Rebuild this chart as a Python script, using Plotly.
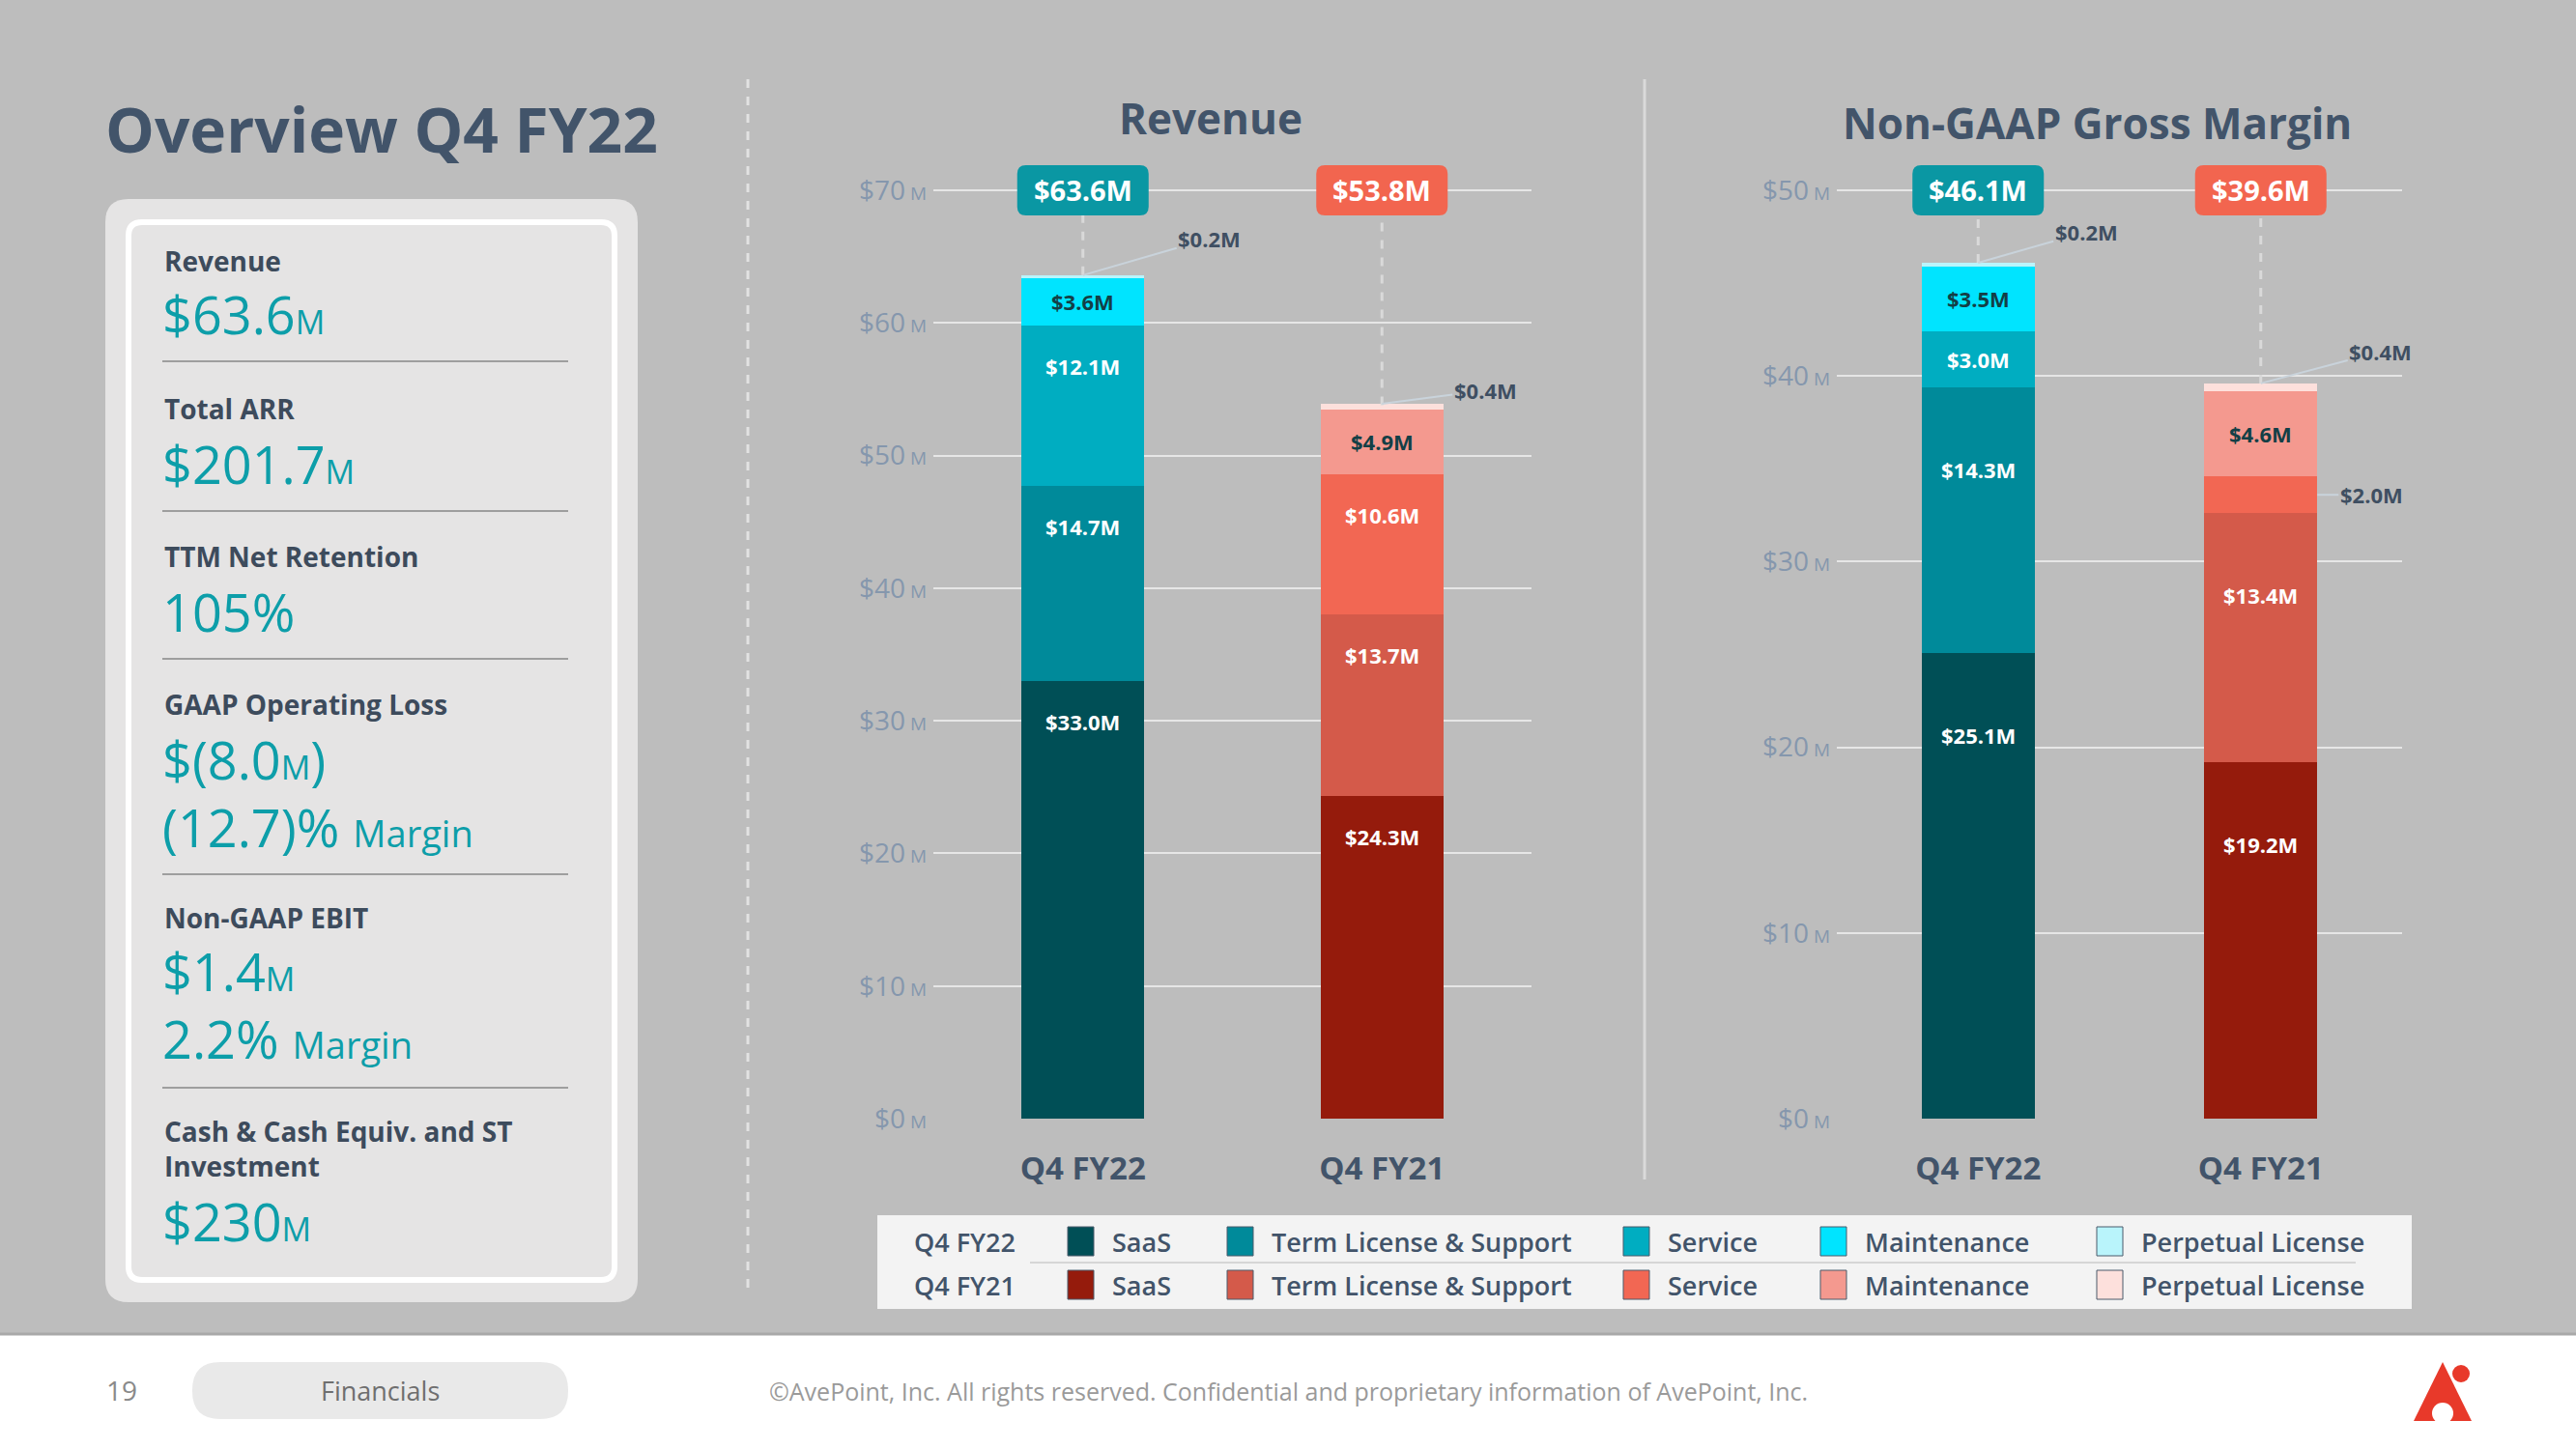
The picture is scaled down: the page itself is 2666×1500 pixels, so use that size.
import plotly.graph_objects as go

W, H = 2666, 1500

# ---------------- data ----------------
categories = ["Q4 FY22", "Q4 FY21"]
segment_names = ["SaaS", "Term License & Support", "Service", "Maintenance", "Perpetual License"]

rev_saas = [33.0, 24.3]
rev_term = [14.7, 13.7]
rev_service = [12.1, 10.6]
rev_maintenance = [3.6, 4.9]
rev_perpetual = [0.2, 0.4]
rev_totals = [63.6, 53.8]
rev_ticks = [0, 10, 20, 30, 40, 50, 60, 70]

gm_saas = [25.1, 19.2]
gm_term = [14.3, 13.4]
gm_service = [3.0, 2.0]
gm_maintenance = [3.5, 4.6]
gm_perpetual = [0.2, 0.4]
gm_totals = [46.1, 39.6]
gm_ticks = [0, 10, 20, 30, 40, 50]

kpi_labels = ["Revenue", "Total ARR", "TTM Net Retention", "GAAP Operating Loss",
              "Non-GAAP EBIT", "Cash & Cash Equiv. and ST<br>Investment"]
kpi_values = ["$63.6{M}", "$201.7{M}", "105%", "$(8.0{M})", "$1.4{M}", "$230{M}"]
kpi_margins = [None, None, None, "(12.7)%", "2.2%", None]

# ---------------- style ----------------
FONT = "Open Sans"
DARK = "#42546a"
TEAL_TXT = "#0d9ea9"
TICK = "#8597ad"
BG = "#bdbdbd"
fy22_colors = ["#004f56", "#008a9a", "#00adc1", "#00e4ff", "#b9f4fb"]
fy21_colors = ["#951b0c", "#d45a4a", "#f26753", "#f4998f", "#fde0dc"]
badge_colors = ["#0a97a3", "#f2654f"]


def px(x):
    return x / W


def py(y):
    return 1 - y / H


def rr_path(x0, y0, x1, y1, r):
    pts = [("M", [(x0 + r, y0)]), ("L", [(x1 - r, y0)]), ("Q", [(x1, y0), (x1, y0 + r)]),
           ("L", [(x1, y1 - r)]), ("Q", [(x1, y1), (x1 - r, y1)]), ("L", [(x0 + r, y1)]),
           ("Q", [(x0, y1), (x0, y1 - r)]), ("L", [(x0, y0 + r)]), ("Q", [(x0, y0), (x0 + r, y0)])]
    s = ""
    for cmd, ps in pts:
        s += cmd + " " + " ".join(f"{px(a):.5f},{py(b):.5f}" for a, b in ps) + " "
    return s + "Z"


def rr_pixel_path(w, h, r):
    x0, x1, y0, y1 = -w / 2, w / 2, -h / 2, h / 2
    return (f"M {x0 + r},{y0} L {x1 - r},{y0} Q {x1},{y0} {x1},{y0 + r} L {x1},{y1 - r} "
            f"Q {x1},{y1} {x1 - r},{y1} L {x0 + r},{y1} Q {x0},{y1} {x0},{y1 - r} "
            f"L {x0},{y0 + r} Q {x0},{y0} {x0 + r},{y0} Z")


fig = go.Figure()
shapes = []
ann = []

# plot geometry (px)
Y0_PX, YTOP_PX, AREA_TOP_PX = 1158, 197, 150
charts = [
    dict(key="rev", xa="x", ya="y", segs=[rev_saas, rev_term, rev_service, rev_maintenance, rev_perpetual],
         totals=rev_totals, ticks=rev_ticks, ymax=70, dom=(966, 1585), width=0.41, inner_off=42,
         title="Revenue", title_pos=(1253, 122)),
    dict(key="gm", xa="x2", ya="y2", segs=[gm_saas, gm_term, gm_service, gm_maintenance, gm_perpetual],
         totals=gm_totals, ticks=gm_ticks, ymax=50, dom=(1901, 2486), width=0.40, inner_off=85,
         title="Non-GAAP Gross Margin", title_pos=(2170, 127)),
]
outside_offsets = {("rev", 4, 0): (131, -38), ("rev", 4, 1): (107, -14),
                   ("gm", 4, 0): (112, -32), ("gm", 4, 1): (124, -33),
                   ("gm", 2, 1): (56, 0)}

for ci, ch in enumerate(charts):
    for k, vals in enumerate(ch["segs"]):
        fig.add_trace(go.Bar(
            x=categories, y=vals, name=segment_names[k], width=ch["width"],
            marker=dict(color=[fy22_colors[k], fy21_colors[k]], line=dict(width=0)),
            xaxis=ch["xa"], yaxis=ch["ya"], showlegend=False, hoverinfo="skip"))
    ppu = (Y0_PX - YTOP_PX) / ch["ymax"]
    ch["range_top"] = ch["ymax"] + (YTOP_PX - AREA_TOP_PX) / ppu
    for j in range(2):
        base = 0.0
        for k, vals in enumerate(ch["segs"]):
            v = vals[j]
            top = base + v
            hpx = v * ppu
            lbl = f"${v:.1f}M"
            if (ch["key"], k, j) in outside_offsets:
                ax, ay = outside_offsets[(ch["key"], k, j)]
                if k == 4:
                    ax_x, ax_y = j, top
                else:
                    ax_x, ax_y = j + ch["width"] / 2, base + v / 2
                ann.append(dict(x=ax_x, y=ax_y, xref=ch["xa"], yref=ch["ya"], text=f"<b>{lbl}</b>",
                                showarrow=True, arrowhead=0, arrowwidth=2, arrowcolor="#c9d3db",
                                ax=ax, ay=ay, standoff=0,
                                font=dict(family=FONT, size=22, color="#3f4f62")))
            elif hpx >= 45:
                ann.append(dict(x=j, y=top, xref=ch["xa"], yref=ch["ya"], text=f"<b>{lbl}</b>",
                                showarrow=False, xanchor="center", yanchor="middle",
                                yshift=-min(hpx / 2, ch["inner_off"]),
                                font=dict(family=FONT, size=22, color="#133f46" if k == 3 else "white")))
            base = top
        # dashed connector + badge
        shapes.append(dict(type="line", xref=ch["xa"], yref=ch["ya"], x0=j, x1=j,
                           y0=ch["totals"][j], y1=ch["ymax"],
                           line=dict(color="#d9d9d9", width=3, dash="dash"), layer="above"))
        shapes.append(dict(type="path", xref=ch["xa"], yref=ch["ya"], xsizemode="pixel", ysizemode="pixel",
                           xanchor=j, yanchor=ch["ymax"], path=rr_pixel_path(136, 52, 9),
                           fillcolor=badge_colors[j], line=dict(width=0), layer="above"))
        ann.append(dict(x=j, y=ch["ymax"], xref=ch["xa"], yref=ch["ya"], text=f"<b>${ch['totals'][j]:.1f}M</b>",
                        showarrow=False, xanchor="center", yanchor="middle",
                        font=dict(family=FONT, size=29, color="white")))
    tx, ty = ch["title_pos"]
    ann.append(dict(x=px(tx), y=py(ty), xref="paper", yref="paper", text=f"<b>{ch['title']}</b>",
                    xanchor="center", yanchor="middle",
                    showarrow=False, font=dict(family=FONT, size=44, color=DARK)))

axis_common_y = dict(showgrid=True, gridcolor="#e6e6e6", gridwidth=2, zeroline=False, showline=False,
                     automargin=False,
                     ticks="", ticklabelstandoff=6, tickfont=dict(family=FONT, size=28, color=TICK))
axis_common_x = dict(type="category", range=[-0.5, 1.5], showgrid=False, zeroline=False, showline=False,
                     ticks="", ticklabelstandoff=29, automargin=False,
                     tickfont=dict(family=FONT, size=33, color=DARK, weight="bold"))
ydom = [py(Y0_PX), py(AREA_TOP_PX)]


def ticktext(ticks):
    return [f"${t}<span style='font-size:19px'> M</span>" for t in ticks]


fig.update_layout(
    xaxis=dict(domain=[px(966), px(1585)], anchor="y", **axis_common_x),
    yaxis=dict(domain=ydom, anchor="x", range=[0, charts[0]["range_top"]], tickvals=rev_ticks,
               ticktext=ticktext(rev_ticks), **axis_common_y),
    xaxis2=dict(domain=[px(1901), px(2486)], anchor="y2", **axis_common_x),
    yaxis2=dict(domain=ydom, anchor="x2", range=[0, charts[1]["range_top"]], tickvals=gm_ticks,
                ticktext=ticktext(gm_ticks), **axis_common_y),
)

# ---------------- left panel ----------------
ann.append(dict(x=px(107), y=py(133), xref="paper", yref="paper", xanchor="left", yanchor="middle",
                text="<b>Overview Q4 FY22</b>", showarrow=False, font=dict(family=FONT, size=64, color=DARK)))
shapes.append(dict(type="path", xref="paper", yref="paper", path=rr_path(109, 206, 660, 1348, 24),
                   fillcolor="#e5e4e4", line=dict(width=0), layer="below"))
shapes.append(dict(type="path", xref="paper", yref="paper", path=rr_path(133, 230, 636, 1325, 14),
                   fillcolor="#e5e4e4", line=dict(width=6, color="white"), layer="below"))

kpi_label_y = [270, 423, 576, 729, 950, 1189]
kpi_value_y = [325, 480, 633, 786, 1005, 1264]
kpi_block_y = [325, 480, 633, 821, 1040, 1264]   # centre of value (+ margin) block
sep_y = [374, 529, 682, 905, 1126]
for i, lab in enumerate(kpi_labels):
    ann.append(dict(x=px(168), y=py(kpi_label_y[i]), xref="paper", yref="paper", xanchor="left",
                    yanchor="middle", align="left", text=f"<b>{lab}</b>", showarrow=False,
                    font=dict(family=FONT, size=28, color="#3d4b5c")))
    vt = kpi_values[i].replace("{M}", "<span style='font-size:34px'>M</span>")
    if kpi_margins[i]:
        vt += "<br>" + kpi_margins[i] + " <span style='font-size:38px'>Margin</span>"
    ann.append(dict(x=px(166), y=py(kpi_block_y[i]), xref="paper", yref="paper", xanchor="left",
                    yanchor="middle", align="left", text=vt, showarrow=False,
                    font=dict(family=FONT, size=54, color=TEAL_TXT)))
for sy in sep_y:
    shapes.append(dict(type="line", xref="paper", yref="paper", x0=px(168), x1=px(588), y0=py(sy), y1=py(sy),
                       line=dict(color="#9e9e9e", width=2)))

# separators
shapes.append(dict(type="line", xref="paper", yref="paper", x0=px(774), x1=px(774), y0=py(82), y1=py(1338),
                   line=dict(color="#e2e2e2", width=3, dash="dash")))
shapes.append(dict(type="line", xref="paper", yref="paper", x0=px(1702), x1=px(1702), y0=py(82), y1=py(1221),
                   line=dict(color="#dadada", width=3)))

# ---------------- legend ----------------
shapes.append(dict(type="rect", xref="paper", yref="paper", x0=px(908), x1=px(2496), y0=py(1355), y1=py(1258),
                   fillcolor="#f3f3f3", line=dict(width=0)))
shapes.append(dict(type="line", xref="paper", yref="paper", x0=px(1066), x1=px(2438), y0=py(1307), y1=py(1307),
                   line=dict(color="#d6d6d6", width=2)))
legend_rows_y = [1285, 1330]
legend_swatch_x = [1105, 1270, 1680, 1884, 2170]
for r, (cat, cols) in enumerate(zip(categories, [fy22_colors, fy21_colors])):
    yy = legend_rows_y[r]
    ann.append(dict(x=px(944), y=py(yy), xref="paper", yref="paper", xanchor="left", yanchor="middle",
                    text=cat, showarrow=False, font=dict(family=FONT, size=27, color=DARK, weight=600)))
    for k, name in enumerate(segment_names):
        sx = legend_swatch_x[k]
        shapes.append(dict(type="rect", xref="paper", yref="paper", x0=px(sx), x1=px(sx + 27),
                           y0=py(yy + 15), y1=py(yy - 15), fillcolor=cols[k],
                           line=dict(color="#4a5a6b", width=1)))
        ann.append(dict(x=px(sx + 44), y=py(yy), xref="paper", yref="paper", xanchor="left", yanchor="middle",
                        text=name, showarrow=False, font=dict(family=FONT, size=27, color=DARK, weight=600)))

# ---------------- footer ----------------
shapes.append(dict(type="rect", xref="paper", yref="paper", x0=0, x1=1, y0=0, y1=py(1381),
                   fillcolor="white", line=dict(width=0), layer="below"))
shapes.append(dict(type="line", xref="paper", yref="paper", x0=0, x1=1, y0=py(1381), y1=py(1381),
                   line=dict(color="#a9a9a9", width=3)))
shapes.append(dict(type="path", xref="paper", yref="paper", path=rr_path(199, 1410, 588, 1469, 29),
                   fillcolor="#e9e9e9", line=dict(width=0)))
ann.append(dict(x=px(126), y=py(1439), xref="paper", yref="paper", text="19", showarrow=False,
                xanchor="center", yanchor="middle",
                font=dict(family=FONT, size=28, color="#8a8a8a")))
ann.append(dict(x=px(393), y=py(1439), xref="paper", yref="paper", text="Financials", showarrow=False,
                xanchor="center", yanchor="middle",
                font=dict(family=FONT, size=27, color="#6f6f6f")))
ann.append(dict(x=px(794), y=py(1440), xref="paper", yref="paper", xanchor="left", yanchor="middle",
                text="©AvePoint, Inc. All rights reserved. Confidential and proprietary information of AvePoint, Inc.",
                showarrow=False, font=dict(family=FONT, size=25, color="#9a9a9a")))
# logo
logo = f"M {px(2498)},{py(1471)} L {px(2528)},{py(1410)} L {px(2558)},{py(1471)} Z"
shapes.append(dict(type="path", xref="paper", yref="paper", path=logo, fillcolor="#e8392a", line=dict(width=0)))
shapes.append(dict(type="circle", xref="paper", yref="paper", x0=px(2517), x1=px(2539), y0=py(1474), y1=py(1452),
                   fillcolor="white", line=dict(width=0)))
shapes.append(dict(type="circle", xref="paper", yref="paper", x0=px(2538), x1=px(2556), y0=py(1431), y1=py(1413),
                   fillcolor="#e8392a", line=dict(width=0)))

fig.update_layout(
    width=W, height=H, margin=dict(l=0, r=0, t=0, b=0, pad=0, autoexpand=False),
    paper_bgcolor=BG, plot_bgcolor="rgba(0,0,0,0)",
    barmode="stack", showlegend=False,
    shapes=shapes, annotations=ann,
    font=dict(family=FONT),
)

fig.write_html("out.html", config={"displayModeBar": False},
               post_script="document.body.style.margin='0';document.body.style.overflow='hidden';")
